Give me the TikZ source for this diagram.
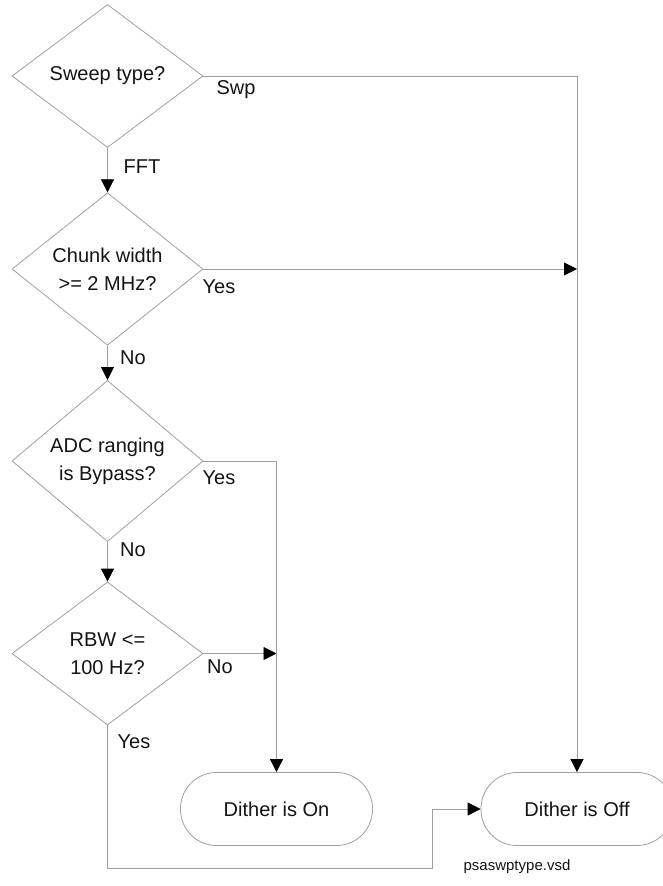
\documentclass[tikz,border=0pt]{standalone}
\usepackage{fontspec}
\setmainfont{Liberation Sans}
\usetikzlibrary{shapes.geometric,arrows.meta}
\definecolor{linegray}{HTML}{A0A0A0}
\definecolor{txt}{HTML}{141414}
\begin{document}
\begin{tikzpicture}[x=1pt,y=-1pt,
  dec/.style={diamond, draw=linegray, line width=0.8pt, minimum width=191pt, minimum height=143pt, inner sep=0pt, align=center, font=\fontsize{20}{28}\selectfont, text=txt},
  term/.style={rectangle, rounded corners=36pt, draw=linegray, line width=0.8pt, minimum width=192pt, minimum height=73pt, font=\fontsize{20}{24}\selectfont, text=txt},
  conn/.style={draw=linegray, line width=0.8pt},
  arr/.style={conn, -{Triangle[length=13pt,width=13pt,color=black]}},
  lbl/.style={font=\fontsize{20}{24}\selectfont, text=txt, inner sep=0pt}
]
\useasboundingbox[fill=white] (0,0) rectangle (663,886);

\node[dec] (d1) at (107.5,76) {Sweep type?};
\node[dec] (d2) at (107.5,269) {Chunk width\\>= 2 MHz?};
\node[dec] (d3) at (107.5,461) {ADC ranging\\is Bypass?};
\node[dec] (d4) at (107.5,653.5) {RBW <=\\100 Hz?};

\node[term] (on) at (276.5,809) {Dither is On};
\node[term] (off) at (577,809) {Dither is Off};

\coordinate (c1) at (577,76);
\coordinate (c2) at (577,269);
\coordinate (c3) at (276.5,461);
\coordinate (c4) at (276.5,653.5);
\coordinate (c5) at (107.5,868);
\coordinate (c6) at (432,868);
\coordinate (c7) at (432,809);

\draw[arr] (d1.south) -- (d2.north);
\draw[arr] (d2.south) -- (d3.north);
\draw[arr] (d3.south) -- (d4.north);
\draw[arr] (d1.east) -- (c1) -- (off.north);
\draw[arr] (d2.east) -- (c2);
\draw[arr] (d3.east) -- (c3) -- (on.north);
\draw[arr] (d4.east) -- (c4);
\draw[arr] (d4.south) -- (c5) -- (c6) -- (c7) -- (off.west);

\node[lbl] (lswp) at (236,90) {Swp};
\node[lbl] (lfft) at (142,167) {FFT};
\node[lbl] (ly2) at (219,287) {Yes};
\node[lbl] (ln2) at (133,358) {No};
\node[lbl] (ly3) at (219,478) {Yes};
\node[lbl] (ln3) at (133,550) {No};
\node[lbl] (ln4) at (220,667) {No};
\node[lbl] (ly4) at (134,742) {Yes};
\node[lbl, font=\fontsize{15}{18}\selectfont] (file) at (517,867) {psaswptype.vsd};
\end{tikzpicture}
\end{document}
